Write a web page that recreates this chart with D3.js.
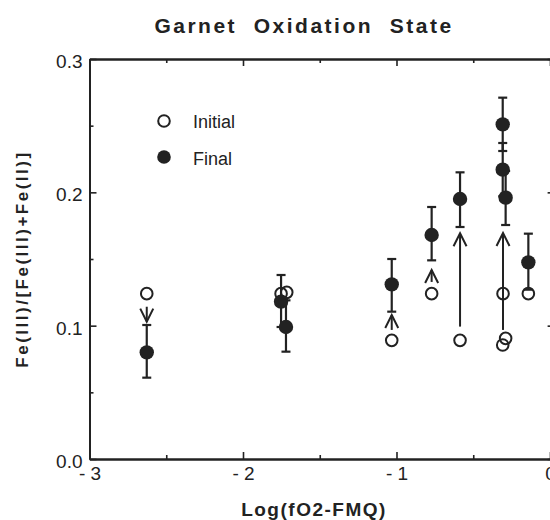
<!DOCTYPE html>
<html>
<head>
<meta charset="utf-8">
<script src="https://cdn.jsdelivr.net/npm/d3@7"></script>
<style>
  body { margin: 0; background: #fff; }
  svg { display: block; font-family: "Liberation Sans", Arial, Helvetica, sans-serif; }
</style>
</head>
<body>
<div id="chart"></div>
<script>
// axis ticks
var xMajor = [-3, -2, -1, 0],
    xMajorLabels = ['- 3', '- 2', '- 1', '0'],
    xMinor = [-2.5, -1.5, -0.5],
    yMajor = [0, 0.1, 0.2, 0.3],
    yMajorLabels = ['0.0', '0.1', '0.2', '0.3'],
    yMinor = [0.05, 0.15, 0.25];

// initial (open circles)
var initialX = [-2.627, -1.752, -1.715, -1.031, -0.771, -0.586, -0.306, -0.289, -0.308, -0.141],
    initialY = [0.124, 0.124, 0.125, 0.089, 0.124, 0.089, 0.124, 0.0905, 0.0855, 0.124];

// final (filled circles) with error bars
var finalX = [-2.627, -1.752, -1.72, -1.031, -0.771, -0.586, -0.308, -0.308, -0.289, -0.141],
    finalY = [0.080, 0.118, 0.099, 0.131, 0.168, 0.195, 0.251, 0.217, 0.196, 0.1475],
    finalLo = [0.061, 0.099, 0.0805, 0.1105, 0.149, 0.174, 0.231, 0.197, 0.1755, 0.127],
    finalHi = [0.1005, 0.138, 0.119, 0.150, 0.189, 0.215, 0.271, 0.237, 0.216, 0.169];

// arrows initial -> final
var arrowX = [-2.627, -1.031, -0.771, -0.586, -0.306],
    arrowFrom = [0.1142, 0.0968, 0.1328, 0.0993, 0.0968],
    arrowTo = [0.103, 0.108, 0.1418, 0.1693, 0.1695];

var width = 550, height = 520, ink = '#222';

var x = d3.scaleLinear().domain([-3, 0.03]).range([89.5, 554.6]),
    y = d3.scaleLinear().domain([0, 0.3]).range([459, 59]);

var svg = d3.select('#chart').append('svg')
    .attr('width', width)
    .attr('height', height);

function styleAxis(g) {
    g.selectAll('path.domain').attr('stroke', ink).attr('stroke-width', 2);
    g.selectAll('.tick line').attr('stroke', ink).attr('stroke-width', 1.6);
    g.selectAll('.tick text').attr('fill', ink).style('font-size', '19px');
}

// bottom
svg.append('g').attr('transform', 'translate(0,' + y(0) + ')')
    .call(d3.axisBottom(x).tickValues(xMajor).tickSize(-7).tickSizeOuter(0).tickPadding(8)
        .tickFormat(function(d, i) { return xMajorLabels[i]; }))
    .call(styleAxis);
svg.append('g').attr('transform', 'translate(0,' + y(0) + ')')
    .call(d3.axisBottom(x).tickValues(xMinor).tickSize(-4).tickSizeOuter(0).tickFormat(''))
    .call(styleAxis);

// top
svg.append('g').attr('transform', 'translate(0,' + y(0.3) + ')')
    .call(d3.axisTop(x).tickValues(xMajor).tickSize(-7).tickSizeOuter(0).tickFormat(''))
    .call(styleAxis);
svg.append('g').attr('transform', 'translate(0,' + y(0.3) + ')')
    .call(d3.axisTop(x).tickValues(xMinor).tickSize(-4).tickSizeOuter(0).tickFormat(''))
    .call(styleAxis);

// left
var left = svg.append('g').attr('transform', 'translate(' + x(-3) + ',0)')
    .call(d3.axisLeft(y).tickValues(yMajor).tickSize(-7).tickSizeOuter(0).tickPadding(7)
        .tickFormat(function(d, i) { return yMajorLabels[i]; }))
    .call(styleAxis);
left.selectAll('.tick text').attr('dy', '0.45em');
svg.append('g').attr('transform', 'translate(' + x(-3) + ',0)')
    .call(d3.axisLeft(y).tickValues(yMinor).tickSize(-4).tickSizeOuter(0).tickFormat(''))
    .call(styleAxis);

// right
svg.append('g').attr('transform', 'translate(' + x(0.03) + ',0)')
    .call(d3.axisRight(y).tickValues(yMajor).tickSize(-7).tickSizeOuter(0).tickFormat(''))
    .call(styleAxis);
svg.append('g').attr('transform', 'translate(' + x(0.03) + ',0)')
    .call(d3.axisRight(y).tickValues(yMinor).tickSize(-4).tickSizeOuter(0).tickFormat(''))
    .call(styleAxis);

// error bars
var capW = 4.5;
var eb = svg.append('g').attr('stroke', ink).attr('stroke-width', 2.2).attr('fill', 'none');
finalX.forEach(function(fx, i) {
    var cx = x(fx);
    eb.append('line').attr('x1', cx).attr('x2', cx).attr('y1', y(finalLo[i])).attr('y2', y(finalHi[i]));
    eb.append('line').attr('x1', cx - capW).attr('x2', cx + capW).attr('y1', y(finalLo[i])).attr('y2', y(finalLo[i]));
    eb.append('line').attr('x1', cx - capW).attr('x2', cx + capW).attr('y1', y(finalHi[i])).attr('y2', y(finalHi[i]));
});

// arrows
var ar = svg.append('g').attr('stroke', ink).attr('stroke-width', 2).attr('fill', 'none')
    .attr('stroke-linejoin', 'miter');
arrowX.forEach(function(ax, i) {
    var cx = x(ax), y0 = y(arrowFrom[i]), y1 = y(arrowTo[i]),
        dir = y1 < y0 ? 1 : -1, headL = 13, headW = 6.5;
    ar.append('line').attr('x1', cx).attr('x2', cx).attr('y1', y0).attr('y2', y1);
    ar.append('path').attr('d', 'M' + (cx - headW) + ',' + (y1 + dir * headL) +
        'L' + cx + ',' + y1 + 'L' + (cx + headW) + ',' + (y1 + dir * headL));
});

// final points
svg.append('g').selectAll('circle')
    .data(finalX)
  .enter().append('circle')
    .attr('cx', function(d) { return x(d); })
    .attr('cy', function(d, i) { return y(finalY[i]); })
    .attr('r', 7.2)
    .attr('fill', ink);

// initial points
svg.append('g').selectAll('circle')
    .data(initialX)
  .enter().append('circle')
    .attr('cx', function(d) { return x(d); })
    .attr('cy', function(d, i) { return y(initialY[i]); })
    .attr('r', 5.8)
    .attr('fill', 'none')
    .attr('stroke', ink)
    .attr('stroke-width', 2);

// legend
var legend = svg.append('g');
legend.append('circle').attr('cx', 164).attr('cy', 121).attr('r', 5.8)
    .attr('fill', 'none').attr('stroke', ink).attr('stroke-width', 2);
legend.append('text').attr('x', 193).attr('y', 127.5).style('font-size', '18px').attr('fill', ink).text('Initial');
legend.append('circle').attr('cx', 164).attr('cy', 157).attr('r', 6.8).attr('fill', ink);
legend.append('text').attr('x', 193).attr('y', 165).style('font-size', '18px').attr('fill', ink).text('Final');

// titles
svg.append('text')
    .attr('x', 304).attr('y', 33)
    .attr('text-anchor', 'middle')
    .style('font-size', '21px').style('font-weight', 'bold').style('letter-spacing', '2.5px')
    .style('white-space', 'pre')
    .attr('fill', ink)
    .text('Garnet  Oxidation  State');

svg.append('text')
    .attr('x', 314).attr('y', 516)
    .attr('text-anchor', 'middle')
    .style('font-size', '19px').style('font-weight', 'bold').style('letter-spacing', '1.5px')
    .attr('fill', ink)
    .text('Log(fO2-FMQ)');

svg.append('text')
    .attr('transform', 'translate(28,259) rotate(-90)')
    .attr('text-anchor', 'middle')
    .style('font-size', '17px').style('font-weight', 'bold').style('letter-spacing', '2.5px')
    .attr('fill', ink)
    .text('Fe(III)/[Fe(III)+Fe(II)]');
</script>
</body>
</html>
